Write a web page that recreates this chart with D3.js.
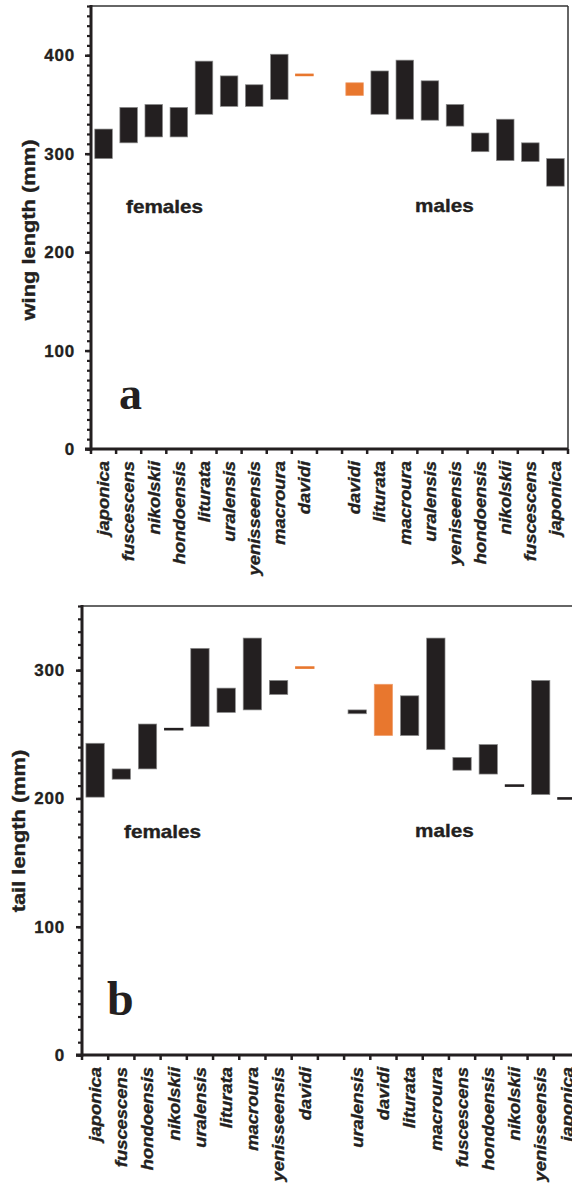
<!DOCTYPE html>
<html>
<head>
<meta charset="utf-8">
<script src="https://cdn.jsdelivr.net/npm/d3@7"></script>
<style>
  body { margin: 0; background: #fff; }
  svg { display: block; }
</style>
</head>
<body>
<svg id="chart" width="572" height="1184"></svg>
<script>
// panel a: wing length (mm), min / max per subspecies
const wingFemales = ["japonica", "fuscescens", "nikolskii", "hondoensis", "liturata", "uralensis", "yenisseensis", "macroura", "davidi"];
const wingFemaleMin = [295, 311, 317, 317, 340, 348, 348, 355, 380];
const wingFemaleMax = [325, 347, 350, 347, 394, 379, 370, 401, 380];
const wingMales = ["davidi", "liturata", "macroura", "uralensis", "yeniseensis", "hondoensis", "nikolskii", "fuscescens", "japonica"];
const wingMaleMin = [359, 340, 335, 334, 328, 302, 293, 292, 267];
const wingMaleMax = [372, 384, 395, 374, 350, 321, 335, 311, 295];

// panel b: tail length (mm)
const tailFemales = ["japonica", "fuscescens", "hondoensis", "nikolskii", "uralensis", "liturata", "macroura", "yenisseensis", "davidi"];
const tailFemaleMin = [201, 215, 223, 254, 256, 267, 269, 281, 302];
const tailFemaleMax = [243, 223, 258, 254, 317, 286, 325, 292, 302];
const tailMales = ["uralensis", "davidi", "liturata", "macroura", "fuscescens", "hondoensis", "nikolskii", "yenisseensis", "japonica"];
const tailMaleMin = [266, 249, 249, 238, 222, 219, 210, 203, 200];
const tailMaleMax = [269, 289, 280, 325, 232, 242, 210, 292, 200];

const dark = "#231f20";
const orange = "#e8772e";
const sans = "'Liberation Sans', Arial, sans-serif";

const svg = d3.select("#chart");

// heavier look for the bold text
function heavy(sel) {
    sel.attr("stroke", dark).attr("stroke-width", 0.35).attr("paint-order", "stroke");
}

function panel(cfg) {
    const rows = [];
    cfg.females.forEach((n, i) => rows.push({key: "f" + i, name: n, lo: cfg.fMin[i], hi: cfg.fMax[i]}));
    rows.push({key: "gap", name: "", lo: null, hi: null});
    cfg.males.forEach((n, i) => rows.push({key: "m" + i, name: n, lo: cfg.mMin[i], hi: cfg.mMax[i]}));

    const x = d3.scaleBand()
        .domain(rows.map(d => d.key))
        .range(cfg.xRange)
        .paddingInner(0.3)
        .paddingOuter(0.15);

    const y = d3.scaleLinear()
        .domain([0, cfg.yMax])
        .range(cfg.yRange);

    const g = svg.append("g");
    const x0 = cfg.xRange[0], x1 = cfg.xRange[1];
    const yb = y(0), yt = y(cfg.yMax);

    // frame
    g.append("line")
        .attr("x1", x0).attr("x2", Math.min(x1, 572)).attr("y1", yt).attr("y2", yt)
        .attr("stroke", "#333").attr("stroke-width", 1.5);
    if (cfg.rightBorder) {
        g.append("line")
            .attr("x1", x1).attr("x2", x1).attr("y1", yt).attr("y2", yb)
            .attr("stroke", "#333").attr("stroke-width", 1.5);
    }

    // minor ticks
    g.append("g")
        .attr("transform", `translate(${x0},0)`)
        .call(d3.axisLeft(y).tickValues(d3.range(0, cfg.yMax + 1, 10)).tickSize(4).tickFormat(""))
        .call(a => a.select(".domain").remove())
        .selectAll("line").attr("stroke", dark).attr("stroke-width", 2.2);

    // major ticks + labels
    const yAxisG = g.append("g")
        .attr("transform", `translate(${x0},0)`)
        .call(d3.axisLeft(y).tickValues(d3.range(0, cfg.yMax + 1, 100)).tickSize(6).tickPadding(cfg.tickPad))
        .call(a => a.select(".domain").remove());
    yAxisG.selectAll("line").attr("stroke", dark).attr("stroke-width", 2.5);
    yAxisG.selectAll("text")
        .attr("font-family", sans).attr("font-weight", "bold")
        .attr("font-size", cfg.tickFont).attr("fill", dark)
        .attr("letter-spacing", 0.8)
        .call(heavy);

    // y axis line
    g.append("line")
        .attr("x1", x0).attr("x2", x0).attr("y1", yt - 1).attr("y2", yb + 1.5)
        .attr("stroke", dark).attr("stroke-width", 3);

    // x axis line with boundary ticks
    g.append("line")
        .attr("x1", x0 - 6).attr("x2", x1).attr("y1", yb).attr("y2", yb)
        .attr("stroke", dark).attr("stroke-width", 3);
    g.append("g").selectAll("line")
        .data(d3.range(rows.length + 1))
        .join("line")
        .attr("x1", i => x0 + i * x.step())
        .attr("x2", i => x0 + i * x.step())
        .attr("y1", yb).attr("y2", yb + 5)
        .attr("stroke", dark).attr("stroke-width", 2.5);

    // category labels
    g.append("g").selectAll("text")
        .data(rows.filter(d => d.name))
        .join("text")
        .attr("transform", d => `translate(${x(d.key) + x.bandwidth() / 2},${yb + cfg.labelGap}) rotate(-90) scale(${cfg.stretch},1)`)
        .attr("text-anchor", "end")
        .attr("dy", "0.36em")
        .attr("font-family", sans).attr("font-weight", "bold").attr("font-style", "italic")
        .attr("font-size", cfg.catFont).attr("fill", dark)
        .text(d => d.name)
        .call(heavy);

    // range bars
    const data = rows.filter(d => d.lo != null);
    g.append("g").selectAll("rect")
        .data(data)
        .join("rect")
        .attr("x", d => d.lo === d.hi ? x(d.key) - 0.5 : x(d.key))
        .attr("width", d => d.lo === d.hi ? x.bandwidth() + 1 : x.bandwidth())
        .attr("y", d => d.lo === d.hi ? y(d.hi) - 1.3 : y(d.hi))
        .attr("height", d => d.lo === d.hi ? 2.6 : y(d.lo) - y(d.hi))
        .attr("fill", d => d.name === "davidi" ? orange : dark)
        .attr("stroke", d => d.lo === d.hi ? "none" : (d.name === "davidi" ? "#f0a070" : "#8c8c8c"))
        .attr("stroke-width", 0.7);

    // y label
    g.append("text")
        .attr("transform", `translate(${cfg.yLabel[0]},${cfg.yLabel[1]}) rotate(-90) scale(${cfg.stretch},1)`)
        .attr("text-anchor", "middle")
        .attr("font-family", sans).attr("font-weight", "bold")
        .attr("font-size", cfg.labelFont).attr("fill", dark)
        .text(cfg.title)
        .call(heavy);

    // group labels
    [["females", cfg.femalesAt], ["males", cfg.malesAt]].forEach(([t, p]) => {
        g.append("text")
            .attr("transform", `translate(${p[0]},${p[1]}) scale(${cfg.stretch},1)`)
            .attr("font-family", sans).attr("font-weight", "bold")
            .attr("font-size", cfg.groupFont).attr("fill", dark)
            .text(t)
            .call(heavy);
    });

    // panel letter
    g.append("text")
        .attr("x", cfg.letterAt[0]).attr("y", cfg.letterAt[1])
        .attr("font-family", "'Liberation Serif', 'DejaVu Serif', serif").attr("font-weight", "bold")
        .attr("font-size", cfg.letterFont).attr("fill", dark)
        .text(cfg.letter);
}

panel({
    females: wingFemales, fMin: wingFemaleMin, fMax: wingFemaleMax,
    males: wingMales, mMin: wingMaleMin, mMax: wingMaleMax,
    yMax: 450, xRange: [91, 568], yRange: [449, 6], rightBorder: true,
    tickPad: 10, tickFont: 17, catFont: 16, labelFont: 19, groupFont: 18,
    stretch: 1.15, labelGap: 12,
    title: "wing length (mm)", yLabel: [35, 230],
    femalesAt: [126, 213], malesAt: [415, 212],
    letter: "a", letterAt: [119, 409], letterFont: 46
});

panel({
    females: tailFemales, fMin: tailFemaleMin, fMax: tailFemaleMax,
    males: tailMales, mMin: tailMaleMin, mMax: tailMaleMax,
    yMax: 350, xRange: [82, 580], yRange: [1055, 606], rightBorder: true,
    tickPad: 11, tickFont: 17, catFont: 16, labelFont: 19, groupFont: 18,
    stretch: 1.15, labelGap: 12,
    title: "tail length (mm)", yLabel: [25, 831],
    femalesAt: [124, 838], malesAt: [415, 837],
    letter: "b", letterAt: [107, 1015], letterFont: 48
});
</script>
</body>
</html>
